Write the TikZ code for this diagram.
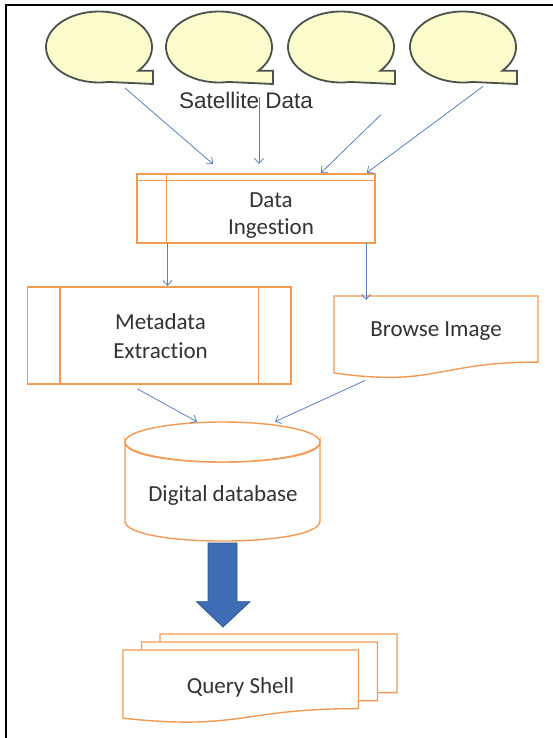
\documentclass[tikz,border=0pt]{standalone}
\usepackage{fontspec}
\setmainfont{Carlito}[Ligatures=NoCommon]
\newfontfamily\arialf{Liberation Sans}
\usetikzlibrary{arrows.meta}
\definecolor{orng}{HTML}{F29A52}
\definecolor{conn}{HTML}{5B7FBE}
\definecolor{bubfill}{HTML}{FCFBCB}
\definecolor{bubline}{HTML}{4A524C}
\definecolor{blockblue}{HTML}{3E6DB5}
\definecolor{blockline}{HTML}{2F5590}
\definecolor{txt}{HTML}{333333}
\newcommand\satbubble[1]{%
  \draw[bubble] ({#1+62.2},81.96) -- ({#1+107},84) -- ({#1+107},70.75) -- ({#1+92.4},70.75)
    arc[start angle=42, end angle=-280, x radius=53, y radius=35.5] -- cycle;}
\newcommand\docpath[4]{% x0 y0 w h
  ({#1},{#2}) -- ({#1+#3},{#2}) -- ({#1+#3},{#2+0.802*#4})
  .. controls ({#1+0.5*#3},{#2+0.802*#4}) and ({#1+0.5*#3},{#2+1.108*#4}) .. ({#1},{#2+0.934*#4}) -- cycle}
\begin{document}
\begin{tikzpicture}[x=1pt,y=-1pt,
  bubble/.style={draw=bubline, fill=bubfill, line width=1.8pt},
  obox/.style={draw=orng, fill=white, line width=1.4pt},
  oline/.style={draw=orng, line width=1.4pt},
  conn/.style={draw=conn, line width=0.8pt, -{Straight Barb[length=5pt,width=9pt]}},
  lbl/.style={text=txt, font=\fontsize{23}{27}\selectfont, align=center, inner sep=0pt},
  frameline/.style={draw=black, line width=2pt}]
\useasboundingbox (0,0) rectangle (553,738);
% frame
\draw[frameline] (6,738) -- (6,5.5) -- (553,5.5);
% bubbles
\satbubble{46}
\satbubble{166}
\satbubble{288}
\satbubble{410}
\node[text=txt, font=\arialf\fontsize{22.5}{24}\selectfont, inner sep=0pt] (sat) at (246,100) {Satellite Data};
% data ingestion (internal storage)
\node[obox, minimum width=238pt, minimum height=69pt, inner sep=0pt] (ing) at (256,208.5) {};
\draw[oline] ([xshift=30pt]ing.north west) -- ([xshift=30pt]ing.south west);
\draw[oline] ([yshift=-7pt]ing.north west) -- ([yshift=-7pt]ing.north east);
\node[lbl, font=\fontsize{23}{26.5}\selectfont] (ingt) at (271,215.5) {Data\\Ingestion};
% metadata extraction (predefined process)
\node[obox, minimum width=263.5pt, minimum height=97pt, inner sep=0pt] (meta) at (159.25,335.5) {};
\draw[oline] ([xshift=33pt]meta.north west) -- ([xshift=33pt]meta.south west);
\draw[oline] ([xshift=-33pt]meta.north east) -- ([xshift=-33pt]meta.south east);
\node[lbl, font=\fontsize{23}{28.5}\selectfont] (metat) at (160.5,336) {Metadata\\Extraction};
% browse image (document)
\draw[obox] \docpath{334}{296}{204}{82.4};
\node[lbl] (brow) at (436,331) {Browse Image};
% database cylinder
\draw[obox] (125,442) -- (125,521) .. controls (125,547.7) and (320,547.7) .. (320,521) -- (320,442)
  .. controls (320,468.7) and (125,468.7) .. (125,442) -- cycle;
\draw[obox] (222.5,442) ellipse[x radius=97.5, y radius=20];
\node[lbl] (db) at (223,495) {Digital database};
% block arrow
\draw[fill=blockblue, draw=blockline, line width=0.8pt] (208,543) -- (237,543) -- (237,601.7) -- (250,601.7)
  -- (223,627) -- (196.5,601.7) -- (208,601.7) -- cycle;
% query shell (multi document)
\draw[obox] \docpath{160}{634}{237}{73};
\draw[obox] \docpath{141.5}{642}{236}{73};
\draw[obox] \docpath{123}{650}{235.5}{73};
\node[lbl] (qs) at (240.5,687) {Query Shell};
% connector end points
\coordinate (s1) at (125,88);   \coordinate (e1) at (213,164);
\coordinate (s2) at (259,97);   \coordinate (e2) at (259,164);
\coordinate (s3) at (381,114.6);\coordinate (e3) at (321,172.8);
\coordinate (s4) at (483,86.4); \coordinate (e4) at (366.8,172.8);
\coordinate (s5) at (167.5,243);\coordinate (e5) at (167.5,286);
\coordinate (s6) at (366,243);  \coordinate (e6) at (366,300);
\coordinate (s7) at (137.6,389);\coordinate (e7) at (197,421.7);
\coordinate (s8) at (365,380.5);\coordinate (e8) at (275,421.7);
\draw[conn] (s1) -- (e1);
\draw[conn] (s2) -- (e2);
\draw[conn] (s3) -- (e3);
\draw[conn] (s4) -- (e4);
\draw[conn] (s5) -- (e5);
\draw[conn] (s6) -- (e6);
\draw[conn] (s7) -- (e7);
\draw[conn] (s8) -- (e8);
\end{tikzpicture}
\end{document}
